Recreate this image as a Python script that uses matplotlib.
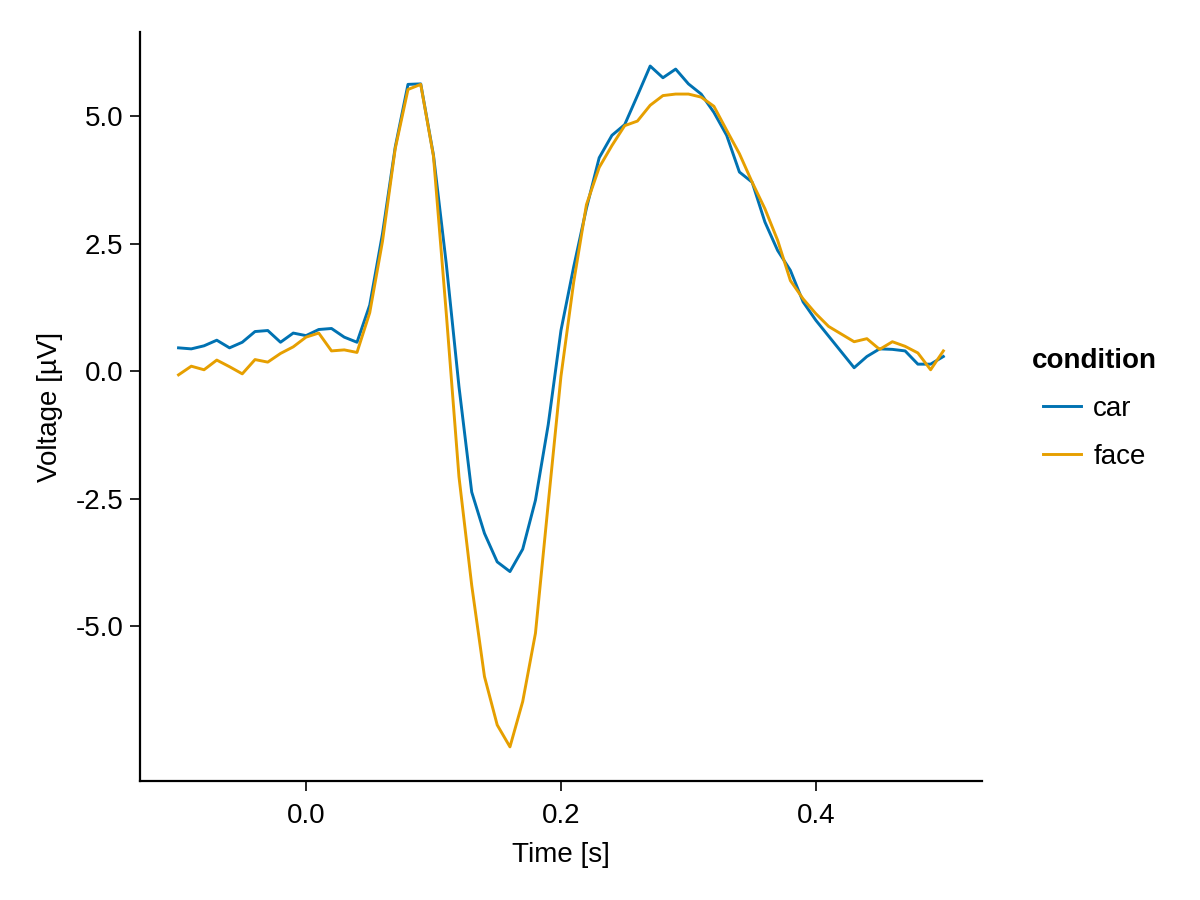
import numpy as np
import matplotlib
matplotlib.use("Agg")
import matplotlib.pyplot as plt

plt.rcParams['font.family'] = ['Liberation Sans', 'DejaVu Sans']
plt.rcParams['axes.unicode_minus'] = False

# time axis, 10 ms steps from -0.1 to 0.5 s
time = np.round(np.arange(-0.10, 0.5001, 0.01), 2)

car = [0.46, 0.44, 0.50, 0.61, 0.46, 0.57, 0.78, 0.80, 0.57, 0.75,
       0.70, 0.82, 0.84, 0.67, 0.57, 1.30, 2.70, 4.40, 5.63, 5.64,
       4.24, 2.12, -0.30, -2.37, -3.18, -3.74, -3.93, -3.49, -2.53, -1.05,
       0.80, 2.05, 3.20, 4.19, 4.63, 4.84, 5.41, 5.99, 5.76, 5.93,
       5.64, 5.44, 5.08, 4.63, 3.91, 3.71, 2.93, 2.37, 1.98, 1.36,
       1.00, 0.69, 0.38, 0.07, 0.29, 0.44, 0.43, 0.40, 0.14, 0.14,
       0.29]

face = [-0.07, 0.10, 0.03, 0.22, 0.09, -0.05, 0.23, 0.18, 0.35, 0.48,
        0.67, 0.75, 0.40, 0.42, 0.37, 1.15, 2.55, 4.37, 5.53, 5.63,
        4.22, 1.15, -2.07, -4.20, -5.99, -6.94, -7.37, -6.48, -5.14, -2.60,
        -0.10, 1.75, 3.27, 4.00, 4.43, 4.82, 4.91, 5.22, 5.41, 5.44,
        5.44, 5.38, 5.20, 4.73, 4.27, 3.71, 3.19, 2.57, 1.78, 1.42,
        1.13, 0.88, 0.73, 0.58, 0.64, 0.43, 0.58, 0.49, 0.36, 0.03,
        0.40]

conditions = ["car", "face"]
colors = ["#0072B2", "#E69F00"]

fig = plt.figure(figsize=(12, 9), dpi=100)
ax = fig.add_axes([0.1167, 0.1322, 0.7013, 0.8318])

ax.plot(time, car, color=colors[0], linewidth=2.1, label=conditions[0])
ax.plot(time, face, color=colors[1], linewidth=2.1, label=conditions[1])

ax.set_xlim(-0.1302, 0.530)
ax.set_ylim(-8.04, 6.65)
ax.set_xticks([0.0, 0.2, 0.4])
ax.set_xticklabels(["0.0", "0.2", "0.4"])
ax.set_yticks([-5.0, -2.5, 0.0, 2.5, 5.0])
ax.set_yticklabels(["-5.0", "-2.5", "0.0", "2.5", "5.0"])

ax.spines['top'].set_visible(False)
ax.spines['right'].set_visible(False)
ax.spines['left'].set_linewidth(1.6)
ax.spines['bottom'].set_linewidth(1.6)
ax.tick_params(labelsize=20, length=7, width=1.2, pad=5)
ax.tick_params(axis='x', pad=9)

ax.set_xlabel("Time [s]", fontsize=20, labelpad=9)
ax.set_ylabel("Voltage [µV]", fontsize=20, labelpad=9)

leg = ax.legend(title="condition", loc="center left", bbox_to_anchor=(1.03, 0.497),
                frameon=False, fontsize=20, title_fontsize=20,
                handlelength=1.35, handletextpad=0.45, labelspacing=0.78)
leg.get_title().set_fontweight("bold")

fig.savefig("out.png", dpi=100)
